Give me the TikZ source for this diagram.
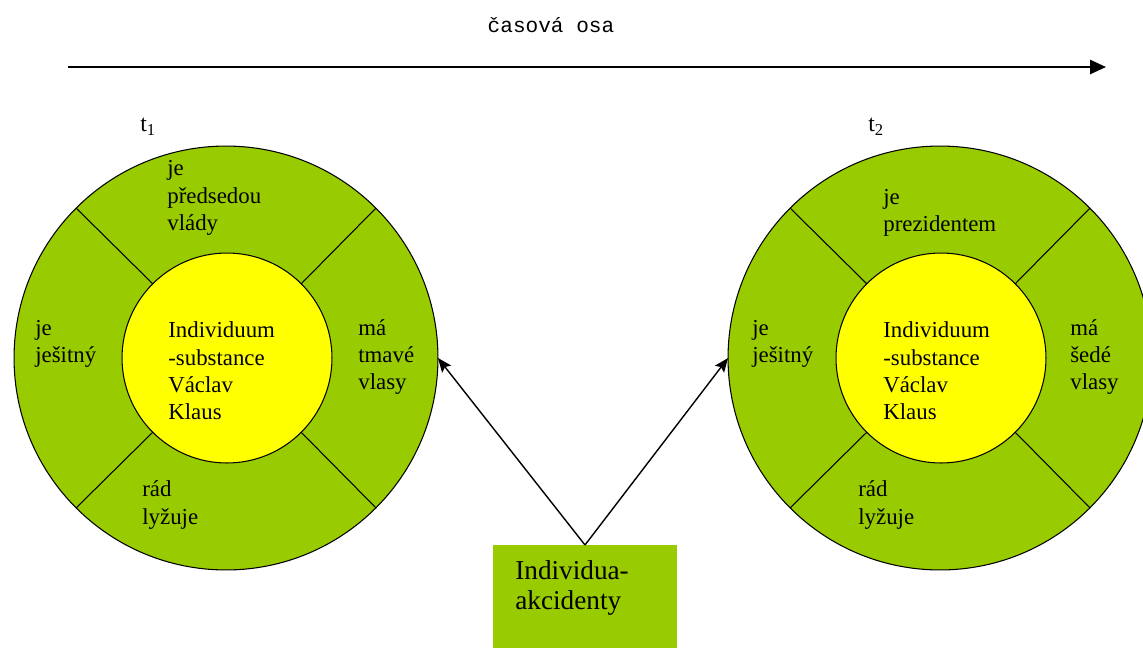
\documentclass[tikz,border=0pt]{standalone}
\usepackage{fontspec}
\setmainfont{Liberation Serif}
\newfontfamily\axisfont{Liberation Mono}
\usetikzlibrary{arrows.meta}
\definecolor{leaf}{RGB}{153,204,0}
\definecolor{yel}{RGB}{255,255,0}
\begin{document}
\begin{tikzpicture}[x=0.02cm,y=-0.02cm,
  outerring/.style={circle,draw=black,line width=0.6pt,fill=leaf,minimum size=8.48cm,inner sep=0pt,outer sep=0pt},
  innercore/.style={circle,draw=black,line width=0.6pt,fill=yel,minimum size=4.2cm,inner sep=0pt,outer sep=0pt},
  divider/.style={draw=black,line width=0.6pt},
  lbl/.style={anchor=west,align=left,inner sep=0pt,font=\fontsize{13}{15.6}\selectfont},
  tlbl/.style={anchor=west,inner sep=0pt,font=\fontsize{13.5}{16}\selectfont},
  accbox/.style={rectangle,fill=leaf,draw=none,minimum width=3.68cm,minimum height=2.4cm,inner sep=0pt,outer sep=0pt},
  boxlbl/.style={anchor=west,align=left,inner sep=0pt,font=\fontsize{15.5}{17.2}\selectfont},
  axisarrow/.style={draw=black,line width=1.2pt,-{Triangle[length=9pt,width=8pt]}},
  link/.style={draw=black,line width=0.8pt,-{Stealth[length=8pt,width=6.5pt,inset=1.5pt]}}
]
\clip (0,0) rectangle (1143,647);
\fill[white] (0,0) rectangle (1143,647);

% time axis
\node[anchor=center,inner sep=0pt,font=\axisfont\fontsize{12}{14}\selectfont] (axislabel) at (551,25) {časová osa};
\coordinate (axstart) at (68,67);
\coordinate (axend) at (1106,67);
\draw[axisarrow] (axstart) -- (axend);

% time labels
\node[tlbl] (t1) at (140,127) {t\textsubscript{1}};
\node[tlbl] (t2) at (868,127) {t\textsubscript{2}};

% left individual
\node[outerring] (o1) at (226,358) {};
\node[innercore] (i1) at (227,358) {};
\foreach \a in {45,135,225,315} \draw[divider] (i1.\a) -- (o1.\a);
\node[lbl] (l1top) at (167,198) {je\\předsedou\\vlády};
\node[lbl] (l1left) at (35,344) {je\\ješitný};
\node[lbl] (l1core) at (168,371) {Individuum\\-substance\\Václav\\Klaus};
\node[lbl] (l1right) at (358,357) {má\\tmavé\\vlasy};
\node[lbl] (l1bottom) at (142,505) {rád\\lyžuje};

% right individual
\node[outerring] (o2) at (940,358) {};
\node[innercore] (i2) at (941,358) {};
\foreach \a in {45,135,225,315} \draw[divider] (i2.\a) -- (o2.\a);
\node[lbl] (l2top) at (883,213) {je\\prezidentem};
\node[lbl] (l2left) at (752,344) {je\\ješitný};
\node[lbl] (l2core) at (883,371) {Individuum\\-substance\\Václav\\Klaus};
\node[lbl] (l2right) at (1070,357) {má\\šedé\\vlasy};
\node[lbl] (l2bottom) at (858,505) {rád\\lyžuje};

% accidents box
\node[accbox,anchor=north] (acc) at (585,545) {};
\node[boxlbl] (acctext) at (515,588) {Individua-\\akcidenty};

\draw[link] (acc.north) -- (o1.east);
\draw[link] (acc.north) -- (o2.west);
\end{tikzpicture}
\end{document}
